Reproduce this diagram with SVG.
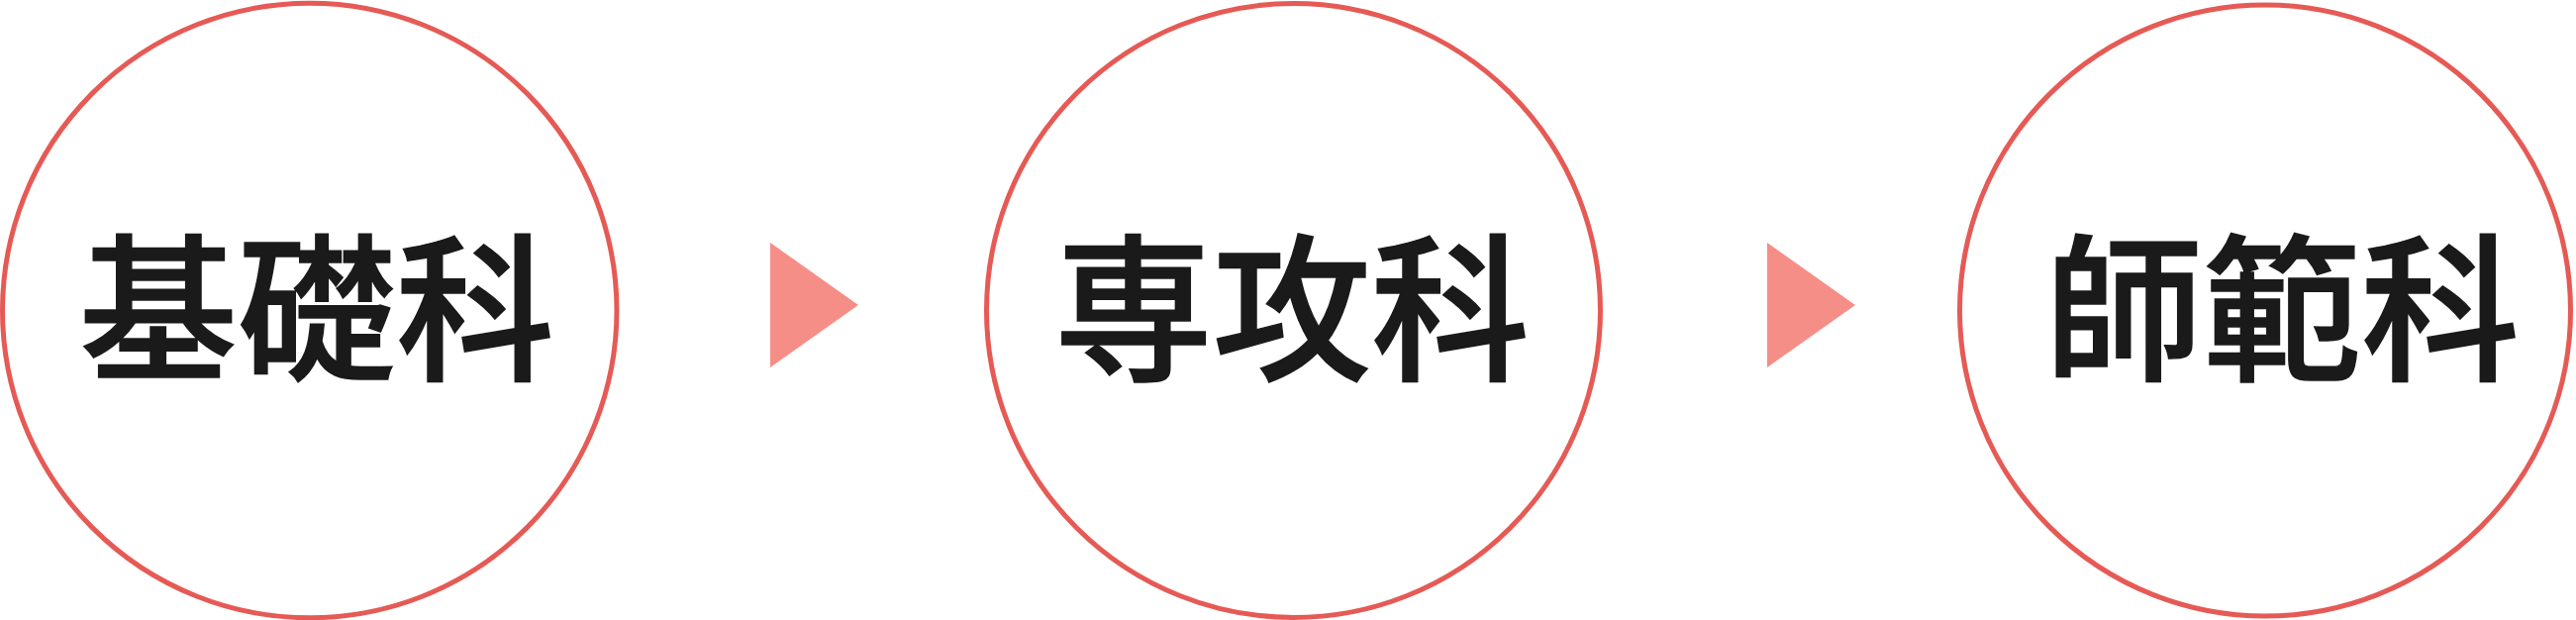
<svg xmlns="http://www.w3.org/2000/svg" width="2602" height="626" viewBox="0 0 2602 626">
  <style>
    .ring { fill: #ffffff; stroke: #E65A55; stroke-width: 5; }
    .lbl { font-family: "Noto Sans CJK JP", "Noto Sans CJK SC", sans-serif; font-size: 160px; font-weight: 500; fill: #1a1a1a; stroke: #1a1a1a; stroke-width: 1.5; stroke-linejoin: miter; text-anchor: middle; }
    .arrow { fill: #F58E87; }
  </style>
  <rect width="2602" height="626" fill="#ffffff"/>
  <g id="node-kiso">
    <circle class="ring" cx="312.75" cy="313.5" r="310.25"/>
    <text class="lbl" x="320" y="372">基礎科</text>
  </g>
  <g id="node-senko">
    <circle class="ring" cx="1306.5" cy="313.5" r="310"/>
    <text class="lbl" x="1305" y="372">専攻科</text>
  </g>
  <g id="node-shihan">
    <circle class="ring" cx="2288" cy="313.5" r="308.5"/>
    <text class="lbl" x="2305" y="372">師範科</text>
  </g>
  <g id="connectors">
    <polygon class="arrow" points="778,245 867,308 778,371"/>
    <polygon class="arrow" points="1785,245 1874,308 1785,371"/>
  </g>
</svg>
